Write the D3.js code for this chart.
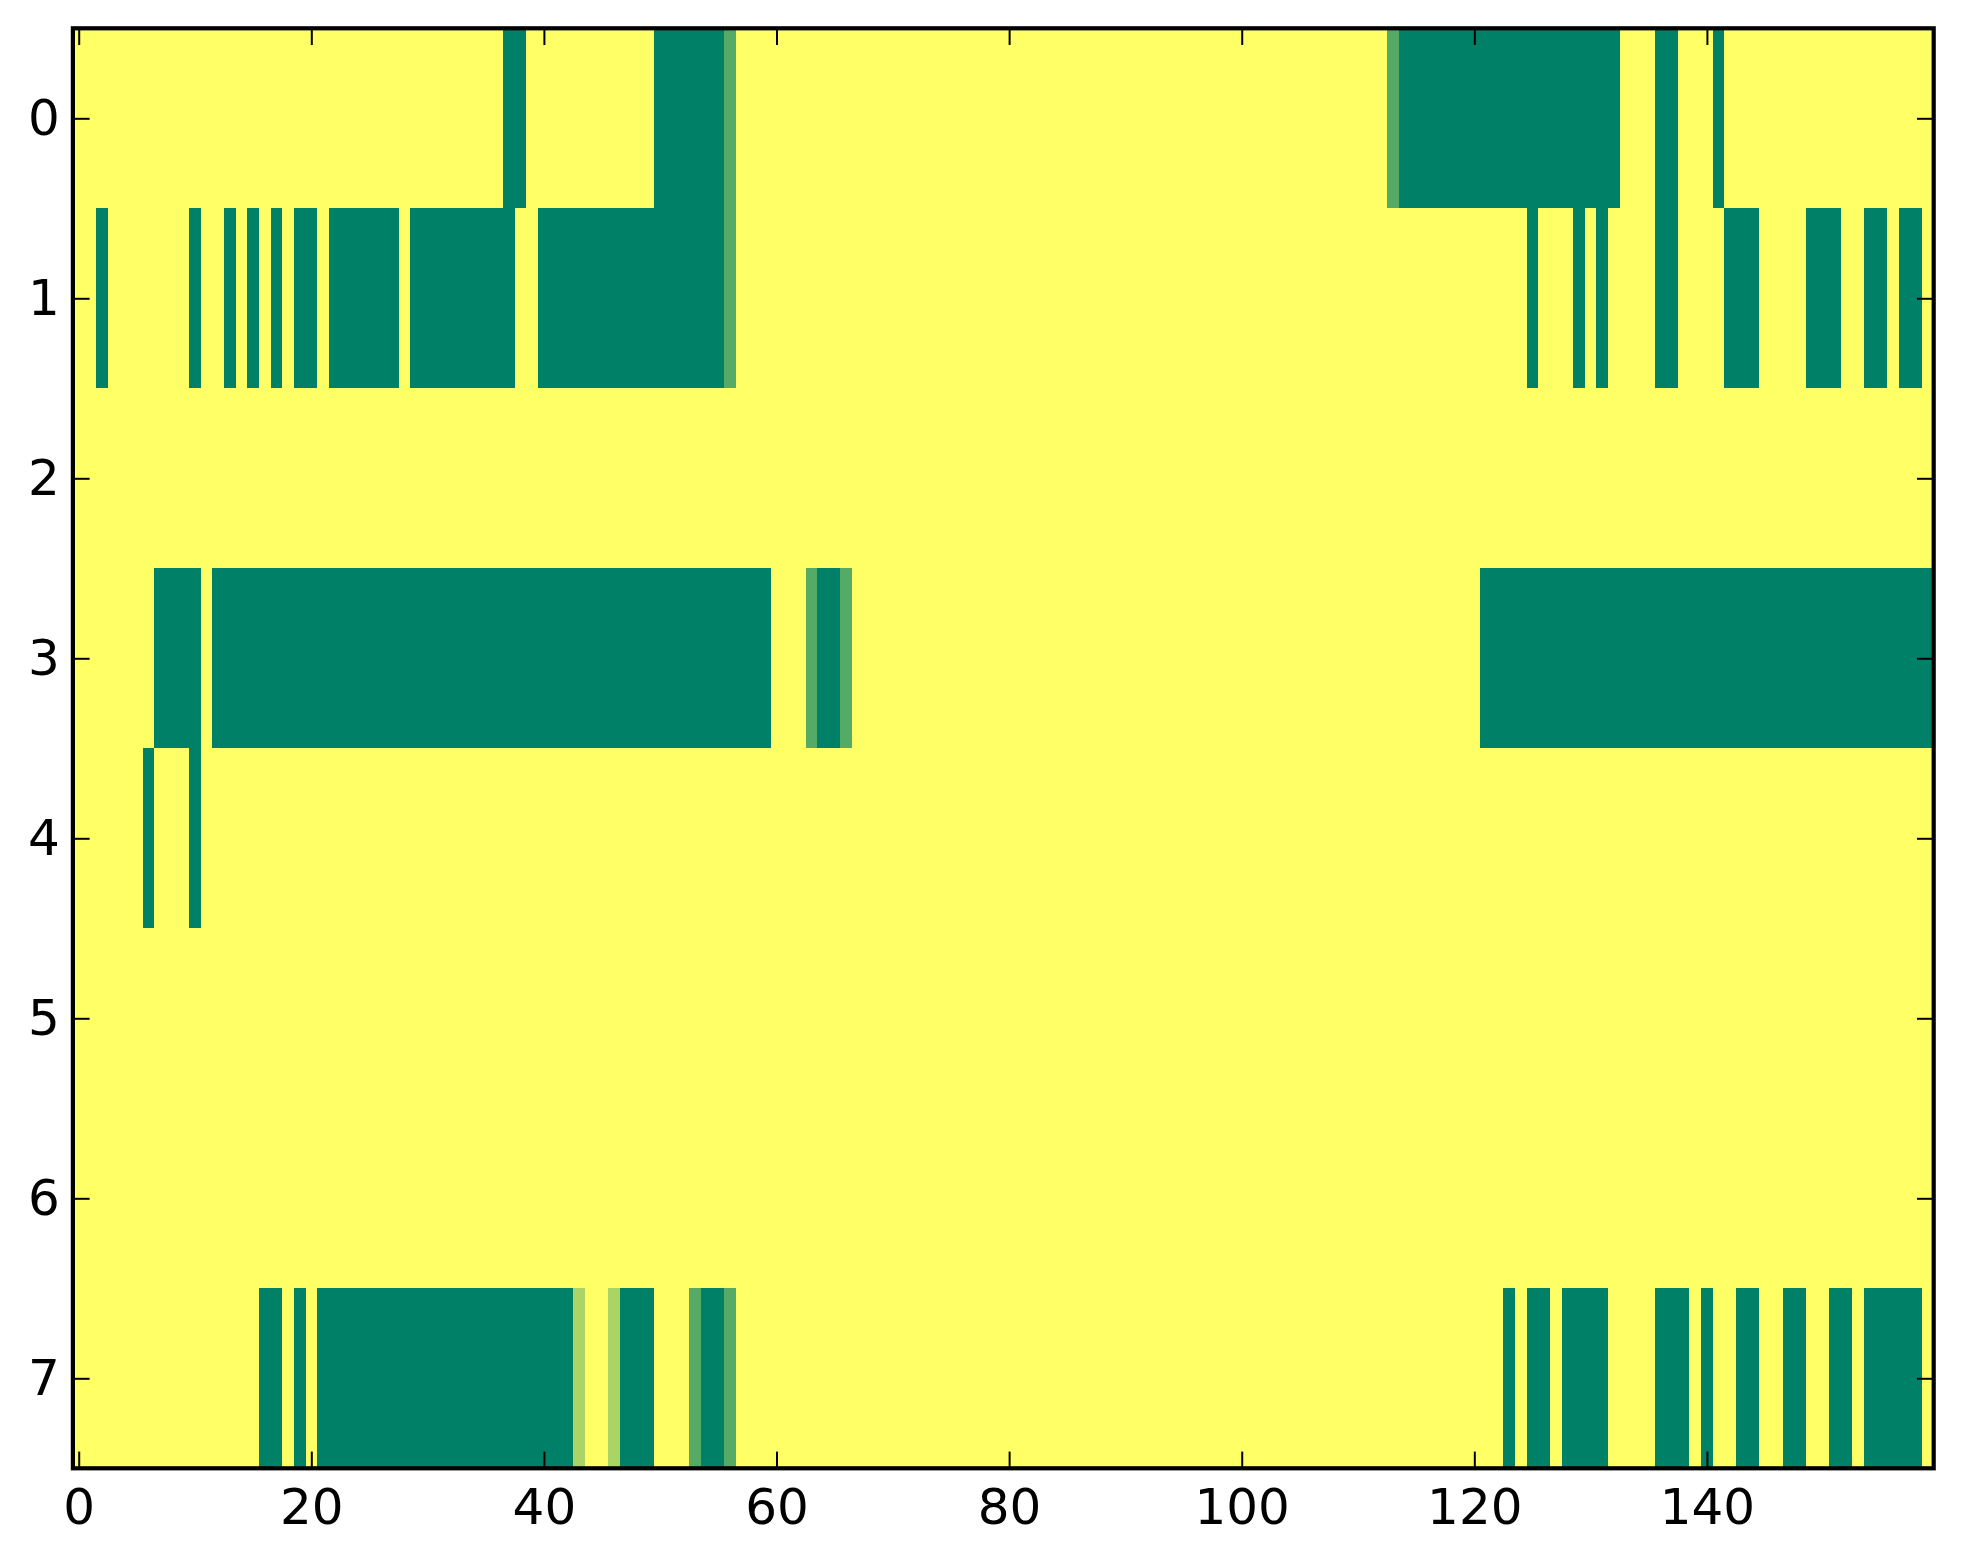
<!DOCTYPE html>
<html>
<head>
<meta charset="utf-8">
<script src="https://cdn.jsdelivr.net/npm/d3@7"></script>
<style>
  body { margin: 0; background: #fff; }
</style>
</head>
<body>
<div id="chart-area"></div>
<script>

let width = 1963,
height = 1564;

// grid size
const nRows = 8;
const nCols = 160;

// non-yellow cells per row as [firstCol, lastCol, value]; every other cell = 1
const row0 = [[37,38,0],[50,55,0],[56,56,1/3],[113,113,1/3],[114,132,0],[136,137,0],[141,141,0]];
const row1 = [[2,2,0],[10,10,0],[13,13,0],[15,15,0],[17,17,0],[19,20,0],[22,27,0],[29,37,0],
              [40,55,0],[56,56,1/3],[125,125,0],[129,129,0],[131,131,0],[136,137,0],
              [142,144,0],[149,151,0],[154,155,0],[157,158,0]];
const row2 = [];
const row3 = [[7,10,0],[12,59,0],[63,63,1/3],[64,65,0],[66,66,1/3],[121,159,0]];
const row4 = [[6,6,0],[10,10,0]];
const row5 = [];
const row6 = [];
const row7 = [[16,17,0],[19,19,0],[21,42,0],[43,43,2/3],[46,46,2/3],[47,49,0],[53,53,1/3],
              [54,55,0],[56,56,1/3],[123,123,0],[125,126,0],[128,131,0],[136,138,0],[140,140,0],
              [143,144,0],[147,148,0],[151,152,0],[154,158,0]];
const rowSpans = [row0, row1, row2, row3, row4, row5, row6, row7];

const xTicks = [0, 20, 40, 60, 80, 100, 120, 140];
const yTicks = [0, 1, 2, 3, 4, 5, 6, 7];

// build the full matrix
let cells = [];
rowSpans.forEach((spans, r) => {
	let vals = new Array(nCols).fill(1);
	spans.forEach(s => {
		for (let c = s[0]; c <= s[1]; c++) vals[c] = s[2];
	});
	vals.forEach((v, c) => cells.push({row: r, col: c, value: v}));
});

let margin = {left: 72.9, right: width - 1933.7, top: 28.3, bottom: height - 1468.3};

let svg = d3.select("#chart-area").append("svg")
	.attr("width", width)
	.attr("height", height);

let x = d3.scaleLinear()
	.domain([-0.5, nCols - 0.5])
	.range([margin.left, width - margin.right]);

let y = d3.scaleLinear()
	.domain([-0.5, nRows - 0.5])
	.range([margin.top, height - margin.bottom]);

// matplotlib "summer" colormap
let summer = v => d3.rgb(255 * v, 255 * (0.5 + 0.5 * v), 255 * 0.4);

svg.append("g")
	.attr("shape-rendering", "crispEdges")
	.selectAll("rect")
	.data(cells)
	.enter().append("rect")
	.attr("x", d => x(d.col - 0.5))
	.attr("y", d => y(d.row - 0.5))
	.attr("width", d => x(d.col + 0.5) - x(d.col - 0.5) + 0.5)
	.attr("height", d => y(d.row + 0.5) - y(d.row - 0.5) + 0.5)
	.attr("fill", d => summer(d.value));

let tickLen = 16.7;

function styleAxis(g) {
	g.select(".domain").remove();
	g.selectAll(".tick line").attr("stroke", "#000").attr("stroke-width", 2);
	g.selectAll("text")
		.attr("fill", "#000")
		.style("font-family", "'DejaVu Sans', sans-serif")
		.style("font-size", "50px");
}

svg.append("g")
	.attr("transform", "translate(0," + y(nRows - 0.5) + ")")
	.call(d3.axisBottom(x).tickValues(xTicks).tickSize(-tickLen).tickPadding(20.5))
	.call(styleAxis);

svg.append("g")
	.attr("transform", "translate(0," + y(-0.5) + ")")
	.call(d3.axisTop(x).tickValues(xTicks).tickSize(-tickLen).tickFormat(""))
	.call(styleAxis);

svg.append("g")
	.attr("transform", "translate(" + x(-0.5) + ",0)")
	.call(d3.axisLeft(y).tickValues(yTicks).tickSize(-tickLen).tickPadding(13))
	.call(styleAxis);

svg.append("g")
	.attr("transform", "translate(" + x(nCols - 0.5) + ",0)")
	.call(d3.axisRight(y).tickValues(yTicks).tickSize(-tickLen).tickFormat(""))
	.call(styleAxis);

// frame
svg.append("rect")
	.attr("x", x(-0.5))
	.attr("y", y(-0.5))
	.attr("width", x(nCols - 0.5) - x(-0.5))
	.attr("height", y(nRows - 0.5) - y(-0.5))
	.attr("fill", "none")
	.attr("stroke", "#000")
	.attr("stroke-width", 4.2);

</script>
</body>
</html>
